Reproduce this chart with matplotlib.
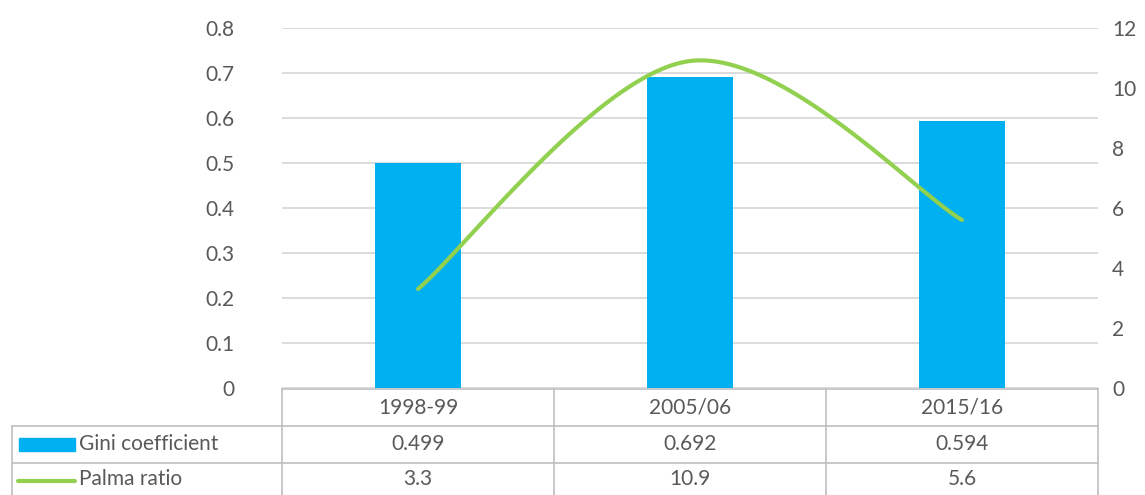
import numpy as np
import matplotlib.pyplot as plt
import matplotlib.transforms as mtransforms
from matplotlib.lines import Line2D
from matplotlib.patches import Rectangle

plt.rcParams['font.family'] = ['Lato', 'DejaVu Sans']
plt.rcParams['font.weight'] = 'normal'
FS = 15

# data
years = ["1998-99", "2005/06", "2015/16"]
gini = [0.499, 0.692, 0.594]
palma = [3.3, 10.9, 5.6]
gini_labels = ["0.499", "0.692", "0.594"]
palma_labels = ["3.3", "10.9", "5.6"]

BLUE = "#00B0F0"
GREEN = "#92D050"
TXT = "#595959"
GRID = "#D9D9D9"
BORDER = "#BFBFBF"


def excel_smooth(x, y, n=60):
    """Bezier smoothing like Excel's smoothed line."""
    pts = np.column_stack([x, y]).astype(float)
    ext = np.vstack([pts[0], pts, pts[-1]])
    out = []
    t = np.linspace(0, 1, n)[:, None]
    for i in range(len(pts) - 1):
        p0, p1, p2, p3 = ext[i], ext[i + 1], ext[i + 2], ext[i + 3]
        c1 = p1 + (p2 - p0) / 6
        c2 = p2 - (p3 - p1) / 6
        seg = ((1 - t) ** 3) * p1 + 3 * ((1 - t) ** 2) * t * c1 + 3 * (1 - t) * t ** 2 * c2 + t ** 3 * p2
        out.append(seg)
    seg = np.vstack(out)
    return seg[:, 0], seg[:, 1]


W, H = 1145, 495
fig = plt.figure(figsize=(W / 100, H / 100), dpi=100)
ax = fig.add_axes([282 / W, 1 - 388 / H, (1098 - 282) / W, (388 - 28) / H])
ax2 = ax.twinx()

x = np.arange(len(years))
ax.bar(x, gini, width=0.315, color=BLUE, zorder=2)
ax.set_xlim(-0.5, len(years) - 0.5)
ax.set_ylim(0, 0.8)
ax.set_yticks(np.arange(0, 0.81, 0.1))
ax.set_yticklabels(["0"] + [f"{v:.1f}" for v in np.arange(0.1, 0.81, 0.1)])
ax.yaxis.grid(True, color=GRID, linewidth=1.3, zorder=0)
ax.set_axisbelow(True)
ax.set_xticks([])
ax.tick_params(axis="y", length=0, pad=34, labelsize=FS, labelcolor=TXT)

sx, sy = excel_smooth(x, palma)
ax2.plot(sx, sy, color=GREEN, linewidth=3, solid_capstyle="round", zorder=3)
ax2.set_ylim(0, 12)
ax2.set_yticks(range(0, 13, 2))
ax2.tick_params(axis="y", length=0, pad=10, labelsize=FS, labelcolor=TXT)

for a in (ax, ax2):
    for s in a.spines.values():
        s.set_visible(False)

# data table below the plot
trans = mtransforms.blended_transform_factory(ax.transData, fig.transFigure)
fy = lambda py: 1 - py / H
fx = lambda px: px / W
xl, xr = -0.5, len(years) - 0.5
x_leg = ax.transData.inverted().transform((12, 0))[0]
rows_y = [389, 426, 463, 495]
lw = 1.2

# horizontal lines
fig.add_artist(Line2D([xl, xr], [fy(rows_y[0])] * 2, transform=trans, color=BORDER, lw=lw))
for py in rows_y[1:3]:
    fig.add_artist(Line2D([x_leg, xr], [fy(py)] * 2, transform=trans, color=BORDER, lw=lw))
# vertical lines
for b in np.arange(xl, xr + 0.01, 1.0):
    fig.add_artist(Line2D([b, b], [fy(rows_y[0]), 0], transform=trans, color=BORDER, lw=lw))
fig.add_artist(Line2D([x_leg, x_leg], [fy(rows_y[1]), 0], transform=trans, color=BORDER, lw=lw))

cell_y = [(rows_y[i] + rows_y[i + 1]) / 2 for i in range(3)]
for i, yr in enumerate(years):
    fig.text(i, fy(cell_y[0]), yr, transform=trans, ha="center", va="center", fontsize=FS, color=TXT)
    fig.text(i, fy(cell_y[1]), gini_labels[i], transform=trans, ha="center", va="center", fontsize=FS, color=TXT)
    fig.text(i, fy(cell_y[2]), palma_labels[i], transform=trans, ha="center", va="center", fontsize=FS, color=TXT)

# legend keys in the table
fig.add_artist(Rectangle((fx(19), fy(451)), fx(75) - fx(19), (451 - 438) / H,
                         transform=fig.transFigure, color=BLUE))
fig.text(fx(79), fy(cell_y[1]), "Gini coefficient", ha="left", va="center", fontsize=FS, color=TXT)
fig.add_artist(Line2D([fx(18), fx(75)], [fy(481)] * 2, transform=fig.transFigure,
                      color=GREEN, lw=3, solid_capstyle="round"))
fig.text(fx(79), fy(cell_y[2]), "Palma ratio", ha="left", va="center", fontsize=FS, color=TXT)

fig.savefig("out.png", dpi=100)
